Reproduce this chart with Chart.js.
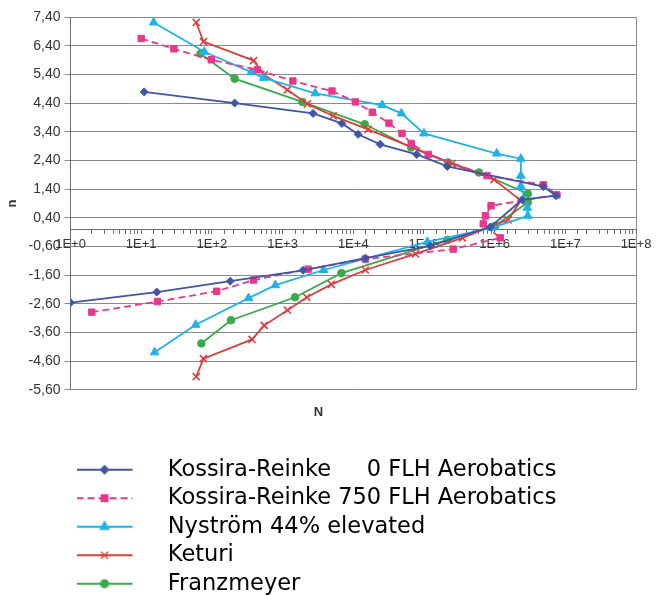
<!DOCTYPE html>
<html>
<head>
<meta charset="utf-8">
<script src="https://cdn.jsdelivr.net/npm/chart.js@4.4.1/dist/chart.umd.min.js"></script>
<style>
  html, body { margin: 0; padding: 0; background: #fff; }
</style>
</head>
<body>
<canvas id="chart" width="666" height="595"></canvas>
<script>
// cumulative cycles N (x) and load level n (y)
const krZeroCycles = [11, 210, 2700, 6900, 11700, 24000, 79000, 214000, 4.9e6, 7.4e6, 2.45e6, 8.7e5, 1.23e5, 14800, 1950, 182, 16.6, 1.0];
const krZeroLevels = [4.79, 4.40, 4.04, 3.69, 3.31, 2.96, 2.61, 2.19, 1.49, 1.17, 1.03, 0.08, -0.58, -1.01, -1.43, -1.81, -2.19, -2.56];

const kr750Cycles = [10, 29, 98, 440, 1400, 5000, 10700, 18600, 32000, 49000, 66000, 115000, 7.8e5, 4.9e6, 7.6e6, 8.9e5, 7.4e5, 6.9e5, 1.2e6, 2.6e5, 14800, 2300, 390, 117, 17, 2.0];
const kr750Levels = [6.65, 6.29, 5.91, 5.56, 5.17, 4.82, 4.44, 4.08, 3.70, 3.34, 2.99, 2.61, 1.87, 1.55, 1.20, 0.82, 0.47, 0.19, -0.30, -0.69, -1.04, -1.39, -1.77, -2.16, -2.52, -2.89];

const nystromCycles = [15, 78, 360, 540, 2900, 25700, 48000, 1.0e5, 1.07e6, 2.35e6, 2.35e6, 2.35e6, 2.9e6, 2.95e6, 9.1e5, 1.12e5, 3800, 790, 330, 59, 15.5];
const nystromLevels = [7.21, 6.19, 5.48, 5.28, 4.74, 4.33, 4.04, 3.34, 2.64, 2.46, 1.87, 1.50, 0.75, 0.47, 0.05, -0.44, -1.42, -1.95, -2.40, -3.33, -4.29];

const keturiCycles = [60, 76, 390, 550, 1170, 2240, 5200, 16200, 2.5e5, 9.8e5, 2.35e6, 1.55e6, 3.5e5, 76000, 14800, 4900, 2200, 1170, 550, 370, 76, 60];
const keturiLevels = [7.21, 6.54, 5.88, 5.38, 4.86, 4.37, 3.95, 3.48, 2.29, 1.73, 1.00, 0.33, -0.30, -0.86, -1.42, -1.92, -2.37, -2.82, -3.35, -3.84, -4.51, -5.14];

const franzCycles = [69, 210, 1900, 14500, 66000, 2.2e5, 6.0e5, 2.95e6, 2.95e6, 1.02e6, 2.14e5, 6800, 1500, 186, 71];
const franzLevels = [6.12, 5.25, 4.44, 3.66, 2.85, 2.33, 1.98, 1.24, 0.94, 0.12, -0.37, -1.53, -2.37, -3.17, -3.98];

const seriesNames = [
  'Kossira-Reinke     0 FLH Aerobatics',
  'Kossira-Reinke 750 FLH Aerobatics',
  'Nyström 44% elevated',
  'Keturi',
  'Franzmeyer'
];
const seriesCycles = [krZeroCycles, kr750Cycles, nystromCycles, keturiCycles, franzCycles];
const seriesLevels = [krZeroLevels, kr750Levels, nystromLevels, keturiLevels, franzLevels];

const colors = ['#3f56a4', '#e8388a', '#1fb2e8', '#dc3d3d', '#3aab4a'];
const markers = ['rectRot', 'rect', 'triangle', 'crossRot', 'circle'];
const radii = [4, 4.5, 5, 5, 3.8];
const dashes = [[], [7, 4], [], [], []];

function points(xs, ys) {
  return xs.map((x, i) => ({x: x, y: ys[i]}));
}

// legend icon: short line with the marker in its middle
function legendIcon(i) {
  const c = document.createElement('canvas');
  c.width = 80;
  c.height = 16;
  const ctx = c.getContext('2d');
  ctx.strokeStyle = colors[i];
  ctx.fillStyle = colors[i];
  ctx.lineWidth = 2;
  ctx.setLineDash(dashes[i]);
  ctx.beginPath();
  ctx.moveTo(0, 8);
  ctx.lineTo(56, 8);
  ctx.stroke();
  ctx.setLineDash([]);
  ctx.lineWidth = 1.5;
  Chart.helpers.drawPoint(ctx, {pointStyle: markers[i], radius: radii[i], rotation: 0, borderWidth: 1.5}, 28, 8);
  return c;
}

const datasets = seriesNames.map((name, i) => ({
  label: name,
  data: points(seriesCycles[i], seriesLevels[i]),
  showLine: true,
  borderColor: colors[i],
  backgroundColor: colors[i],
  borderWidth: 1.8,
  borderDash: dashes[i],
  pointStyle: markers[i],
  pointRadius: radii[i],
  pointBorderWidth: markers[i] === 'crossRot' ? 1.6 : 1,
  pointBackgroundColor: colors[i],
  pointBorderColor: colors[i]
}));

new Chart(document.getElementById('chart'), {
  type: 'scatter',
  data: {datasets: datasets},
  options: {
    responsive: false,
    animation: false,
    devicePixelRatio: 1,
    layout: {padding: {left: 1, right: 30, top: 17, bottom: -10}},
    scales: {
      x: {
        type: 'logarithmic',
        min: 1,
        max: 1e8,
        position: {y: 0},
        border: {color: '#6e6e6e', width: 1},
        grid: {
          drawOnChartArea: true,
          color: (ctx) => (ctx.tick && ctx.tick.value === 1e8) ? '#8c8c8c' : 'rgba(0,0,0,0)',
          tickColor: '#6e6e6e',
          tickLength: 4
        },
        ticks: {
          autoSkip: false,
          maxRotation: 0,
          padding: 3,
          color: '#333',
          font: {family: 'Liberation Sans', size: 13},
          callback: (v) => {
            const e = Math.log10(v);
            return Math.abs(e - Math.round(e)) < 1e-9 ? '1E+' + Math.round(e) : '';
          }
        }
      },
      y: {
        min: -5.6,
        max: 7.4,
        border: {color: '#6e6e6e', width: 1},
        grid: {color: '#8a8a8a', tickLength: 6},
        ticks: {
          stepSize: 1,
          padding: 4,
          color: '#333',
          font: {family: 'Liberation Sans', size: 14},
          callback: (v) => v.toFixed(2).replace('.', ',')
        },
        title: {
          display: true,
          text: 'n',
          color: '#333',
          padding: {top: 4, bottom: 4},
          font: {family: 'Liberation Sans', size: 13, weight: 'bold'}
        }
      }
    },
    plugins: {
      tooltip: {enabled: false},
      title: {
        display: true,
        text: 'N',
        position: 'bottom',
        weight: 500,
        color: '#333',
        padding: {top: 15, bottom: 32},
        font: {family: 'Liberation Sans', size: 13, weight: 'bold'}
      },
      legend: {
        display: true,
        position: 'bottom',
        align: 'start',
        fullSize: false,
        labels: {
          usePointStyle: true,
          pointStyleWidth: 80,
          padding: 6,
          color: '#000',
          font: {family: 'DejaVu Sans', size: 22.5},
          generateLabels: (chart) => chart.data.datasets.map((ds, i) => ({
            text: ds.label.padEnd(38, ' '),
            pointStyle: legendIcon(i),
            fillStyle: colors[i],
            strokeStyle: colors[i],
            lineWidth: 0,
            fontColor: '#000',
            datasetIndex: i
          }))
        }
      }
    }
  }
});
</script>
</body>
</html>
